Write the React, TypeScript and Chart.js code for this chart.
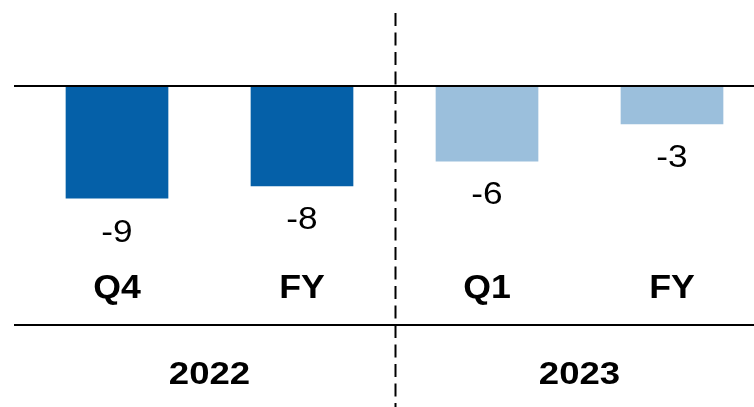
import React, { useEffect, useRef } from "react";
import { Chart, registerables } from "chart.js";

Chart.register(...registerables);

const categories = ["Q4", "FY", "Q1", "FY"];
const years = ["2022", "2022", "2023", "2023"];
const yearLabels = ["2022", "2023"];
const values = [-9, -8, -6, -3];
const barColors = ["#0560A8", "#0560A8", "#9BBFDC", "#9BBFDC"];

const FONT = "'Liberation Sans', Arial, sans-serif";

function drawText(ctx: any, text: string, x: number, y: number, font: string, sx: number) {
  ctx.save();
  ctx.font = font;
  ctx.translate(x, y);
  ctx.scale(sx, 1);
  ctx.fillText(text, 0, 0);
  ctx.restore();
}

const overlay = {
  id: "overlay",
  afterDatasetsDraw(chart: any) {
    const { ctx } = chart;
    const xs = chart.scales.x;
    const ys = chart.scales.y;
    const zeroY = ys.getPixelForValue(0);
    ctx.save();
    ctx.strokeStyle = "#000";
    ctx.lineWidth = 2;
    ctx.beginPath();
    ctx.moveTo(14, zeroY - 1);
    ctx.lineTo(chart.width, zeroY - 1);
    ctx.stroke();
    const sepY = 325;
    ctx.beginPath();
    ctx.moveTo(14, sepY);
    ctx.lineTo(chart.width, sepY);
    ctx.stroke();
    const divX = (xs.getPixelForValue(1) + xs.getPixelForValue(2)) / 2 + 1;
    ctx.setLineDash([13, 6.5]);
    ctx.beginPath();
    ctx.moveTo(divX, 13);
    ctx.lineTo(divX, chart.height);
    ctx.stroke();
    ctx.setLineDash([]);

    ctx.fillStyle = "#000";
    ctx.textAlign = "center";
    ctx.textBaseline = "alphabetic";
    const meta = chart.getDatasetMeta(0);
    meta.data.forEach((bar: any, i: number) => {
      // value label: digit baseline ~ bar bottom + 43
      drawText(ctx, String(values[i]), bar.x, bar.y + 43, `normal 32px ${FONT}`, 1.1);
      drawText(ctx, categories[i], bar.x, 297.5, `bold 34px ${FONT}`, 1.05);
    });
    yearLabels.forEach((yr) => {
      const idx = years.map((y, i) => (y === yr ? i : -1)).filter((i) => i >= 0);
      const cx = idx.reduce((s, i) => s + xs.getPixelForValue(i), 0) / idx.length;
      drawText(ctx, yr, cx, 383.5, `bold 31px ${FONT}`, 1.18);
    });
    ctx.restore();
  },
};

export default function App() {
  const ref = useRef<HTMLCanvasElement>(null);
  useEffect(() => {
    if (!ref.current) return;
    const chart = new Chart(ref.current, {
      type: "bar",
      data: {
        labels: categories.map((c, i) => `${c} ${years[i]}`),
        datasets: [
          {
            data: values,
            backgroundColor: barColors,
            borderWidth: 0,
            categoryPercentage: 1,
            barPercentage: 0.555,
          },
        ],
      },
      plugins: [overlay],
      options: {
        animation: false,
        responsive: false,
        maintainAspectRatio: false,
        layout: { padding: { left: 24.5, right: 15.5, top: 62.2, bottom: 96.8 } },
        plugins: { legend: { display: false }, tooltip: { enabled: false }, title: { display: false } },
        scales: {
          x: { display: false },
          y: { display: false, min: -18, max: 2 },
        },
      },
    });
    return () => chart.destroy();
  }, []);
  return (
    <div style={{ position: "fixed", left: 0, top: 0, width: 754, height: 407, overflow: "hidden", background: "#fff" }}>
      <canvas ref={ref} width={780} height={407} style={{ display: "block" }} />
    </div>
  );
}
